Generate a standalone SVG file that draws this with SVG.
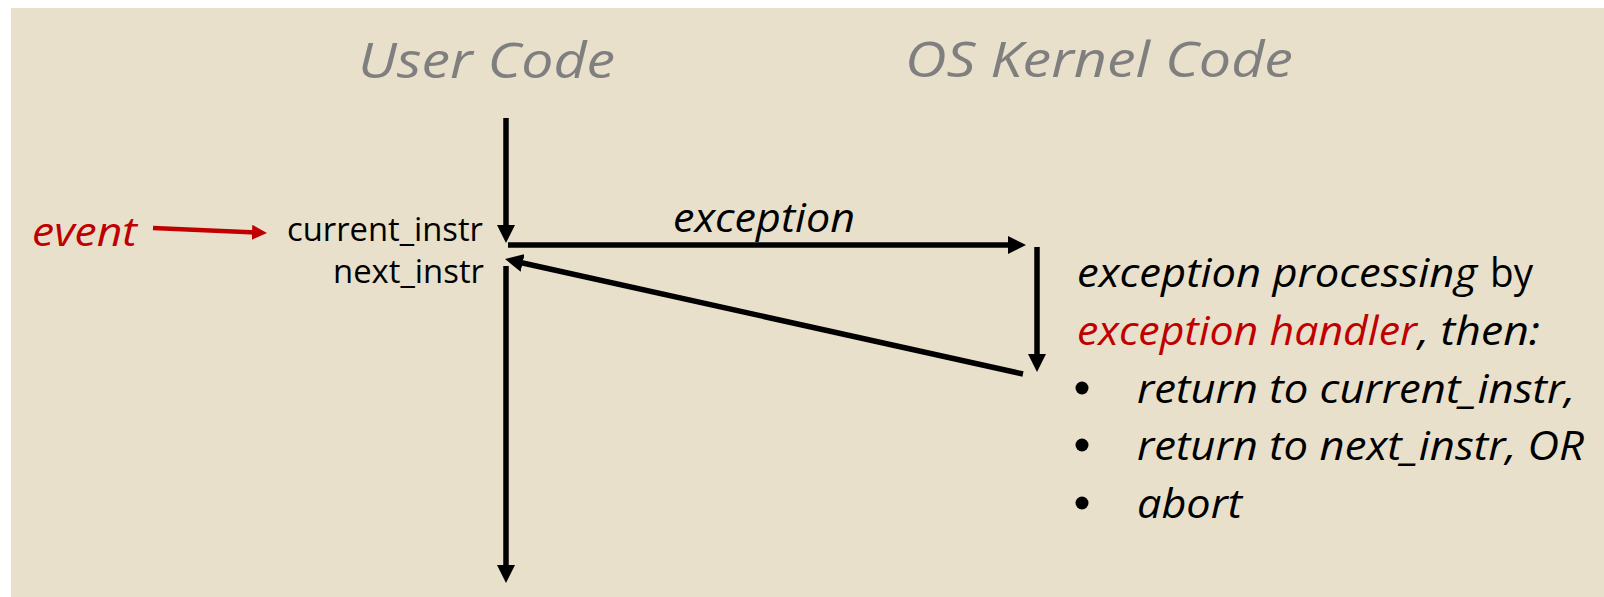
<svg xmlns="http://www.w3.org/2000/svg" width="1604" height="597" viewBox="0 0 1604 597">
  <style>
    .t { font-family: "Open Sans", "Liberation Sans", sans-serif; }
    .it { font-style: italic; }
    .title { font-size: 50px; fill: #7F7F7F; font-style: italic; }
    .lbl { font-size: 32px; fill: #000000; }
    .body { font-size: 40px; fill: #000000; }
    .red { fill: #C00000; }
    .blk { stroke: #000000; stroke-width: 5.5; fill: none; }
    .redl { stroke: #C00000; stroke-width: 4.5; fill: none; }
  </style>
  <defs>
    <marker id="ah" markerUnits="userSpaceOnUse" markerWidth="18" markerHeight="18" refX="8" refY="9" orient="auto">
      <path d="M0,0 L18,9 L0,18 z" fill="#000000"/>
    </marker>
    <marker id="ahr" markerUnits="userSpaceOnUse" markerWidth="15" markerHeight="15" refX="7" refY="7.5" orient="auto">
      <path d="M0,0 L15,7.5 L0,15 z" fill="#C00000"/>
    </marker>
  </defs>
  <rect x="0" y="0" width="1604" height="597" fill="#FFFFFF"/>
  <rect x="11" y="8" width="1593" height="589" fill="#E8E0CA"/>

  <g id="title-user">
    <text class="t title" x="358" y="78" textLength="257" lengthAdjust="spacingAndGlyphs">User Code</text>
  </g>
  <g id="title-kernel">
    <text class="t title" x="905" y="77" textLength="388" lengthAdjust="spacingAndGlyphs">OS Kernel Code</text>
  </g>

  <g id="event">
    <text class="t it red" style="font-size:40px" x="32" y="246" textLength="105" lengthAdjust="spacingAndGlyphs">event</text>
  </g>
  <g id="current-instr">
    <text class="t lbl" x="287" y="241" textLength="196" lengthAdjust="spacingAndGlyphs">current_instr</text>
  </g>
  <g id="next-instr">
    <text class="t lbl" x="333" y="283" textLength="151" lengthAdjust="spacingAndGlyphs">next_instr</text>
  </g>
  <g id="exception-label">
    <text class="t body it" x="673" y="232" textLength="182" lengthAdjust="spacingAndGlyphs">exception</text>
  </g>

  <g id="handler-text">
    <text class="t body it" x="1077" y="287" textLength="400" lengthAdjust="spacingAndGlyphs">exception processing</text>
    <text class="t body" x="1490" y="287" textLength="43" lengthAdjust="spacingAndGlyphs">by</text>
    <text class="t body it red" x="1077" y="345" textLength="340" lengthAdjust="spacingAndGlyphs">exception handler</text>
    <text class="t body it" x="1418" y="345" textLength="122" lengthAdjust="spacingAndGlyphs">, then:</text>
    <circle cx="1082" cy="388" r="6.5" fill="#000000"/>
    <text class="t body it" x="1137" y="403" textLength="438" lengthAdjust="spacingAndGlyphs">return to current_instr,</text>
    <circle cx="1082" cy="445" r="6.5" fill="#000000"/>
    <text class="t body it" x="1137" y="460" textLength="447" lengthAdjust="spacingAndGlyphs">return to next_instr, OR</text>
    <circle cx="1082" cy="503" r="6.5" fill="#000000"/>
    <text class="t body it" x="1137" y="518" textLength="105" lengthAdjust="spacingAndGlyphs">abort</text>
  </g>

  <g id="connectors">
    <line class="redl" x1="153" y1="228" x2="259" y2="232.6" marker-end="url(#ahr)"/>
    <line class="blk" x1="506" y1="118" x2="506" y2="233" marker-end="url(#ah)"/>
    <line class="blk" x1="508" y1="245" x2="1016" y2="245" marker-end="url(#ah)"/>
    <line class="blk" x1="1037" y1="247" x2="1037" y2="362" marker-end="url(#ah)"/>
    <line class="blk" x1="1023" y1="374" x2="514.8" y2="261.2" marker-end="url(#ah)"/>
    <line class="blk" x1="506" y1="266" x2="506" y2="573" marker-end="url(#ah)"/>
  </g>
</svg>
